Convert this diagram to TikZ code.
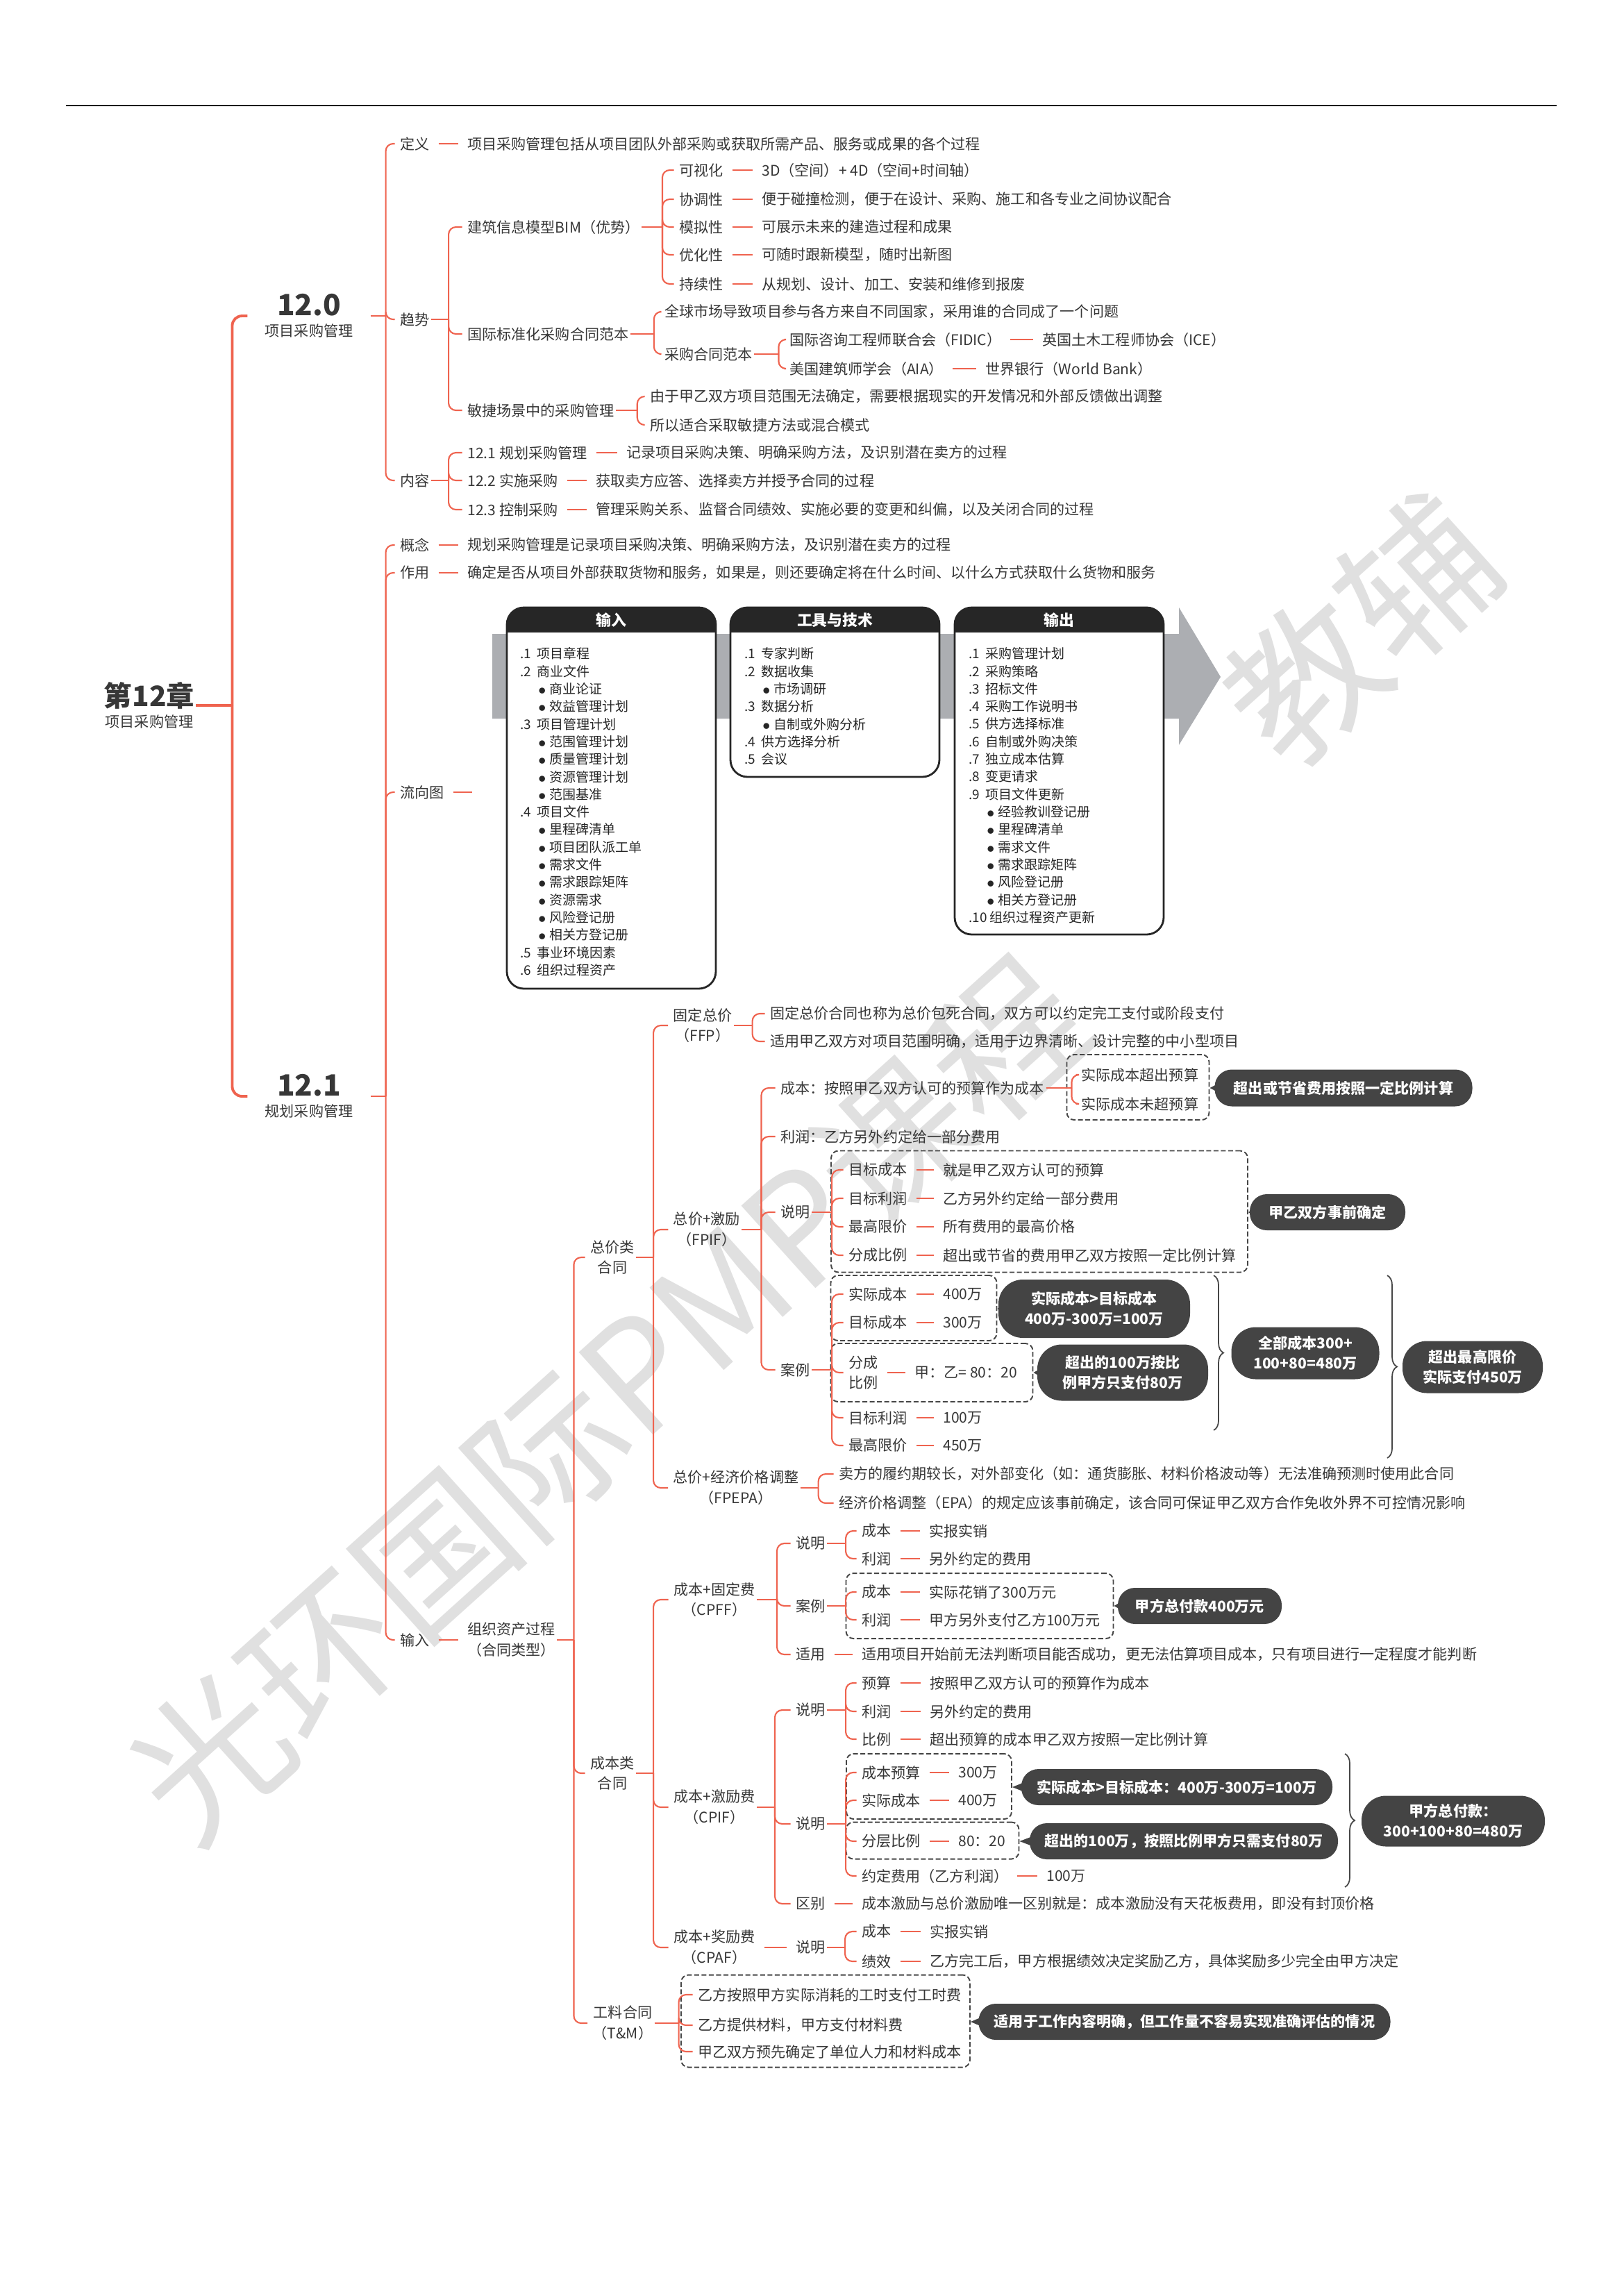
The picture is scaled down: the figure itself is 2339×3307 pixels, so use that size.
\documentclass[tikz,border=0pt]{standalone}
\usepackage{fontspec}
\setmainfont{Noto Sans CJK SC}
\usepackage{xcolor}
\definecolor{LineRed}  {RGB}{239, 99, 79}
\definecolor{TextGray} {RGB}{55,  55, 55}
\definecolor{CallFill} {RGB}{68,  68, 68}
\definecolor{BoxGray}  {RGB}{70,  70, 70}
\definecolor{FlowGray} {RGB}{172,174,178}
\definecolor{MarkGray} {RGB}{224,224,224}
\usepackage{tikz}
\usetikzlibrary{decorations.pathreplacing}

\newcommand\fsmain{\fontsize{6}{8.5}\selectfont}
\newcommand\fscall{\bfseries\fontsize{6}{8.2}\selectfont}
\newcommand\fssec{\bfseries\fontsize{12}{13}\selectfont}
\newcommand\fsroot{\bfseries\fontsize{11.5}{13}\selectfont}
\newcommand\fsflow{\fontsize{5.4}{7.2}\selectfont}
\newcommand\fshead{\bfseries\fontsize{6.2}{7}\selectfont}
\newcommand\fsmark{\fontsize{62}{62}\selectfont}
\newcommand\fnum[1]{\makebox[6.8pt][l]{#1}}
\newcommand\fbul{\hspace*{7pt}\makebox[4.9pt][l]{$\bullet$}}

\begin{document}
\begin{tikzpicture}[x=0.1mm, y=-0.1mm,
  txt/.style={anchor=west, inner sep=0.5pt, text=TextGray, font=\fsmain},
  twoline/.style={inner sep=0.5pt, text=TextGray, font=\fsmain, align=center},
  sec/.style={inner xsep=7pt, inner ysep=0.5pt, text=TextGray, font=\fsmain, align=center},
  rootline/.style={draw=LineRed, line width=1.1pt, rounded corners=4pt},
  branch/.style={draw=LineRed, line width=0.6pt},
  limb/.style={draw=LineRed, line width=0.6pt, rounded corners=3pt, shorten >=1.5pt},
  stub/.style={draw=LineRed, line width=0.6pt, shorten <=3pt, shorten >=3pt},
  dbox/.style={draw=BoxGray, dash pattern=on 2pt off 1pt, line width=0.55pt,
    rounded corners=3pt, inner sep=0},
  darknote/.style={fill=CallFill, text=white, font=\fscall, align=center,
    rounded corners=7pt, inner sep=0},
  callptr/.style={fill=CallFill},
  curly/.style={draw=BoxGray, line width=0.5pt, decorate,
    decoration={brace, amplitude=4pt}},
  flowbox/.style={draw=black!85, line width=0.8pt, rounded corners=7pt},
  flowhead/.style={text=white, font=\fshead},
  flowlist/.style={anchor=north west, inner sep=0, align=left,
    text=black!85, font=\fsflow},
  wmark/.style={text=MarkGray, font=\fsmark}
]
\useasboundingbox (0,0) rectangle (2339,3307);
\fill[white] (0,0) rectangle (2339,3307);

% watermark
\node[wmark, rotate=42] (mark1) at (875,2014) {光环国际PMP课程};
\node[wmark, rotate=42] (mark2) at (1961,907) {教辅};

\draw[black, line width=0.5pt] (95,152) -- (2242,152);

% root and sections
\node[twoline] (ch) at (215,1016) {{\fsroot 第12章}\\项目采购管理};
\node[sec] (s120) at (445,455) {{\fssec 12.0}\\项目采购管理};
\node[sec] (s121) at (445,1579) {{\fssec 12.1}\\规划采购管理};
\draw[rootline] (ch.east) -- ++(52,0) coordinate (b0);
\foreach \n in {s120,s121}
  \draw[rootline] (b0) |- (\n.west);

% 12.0
\node[txt] (def)   at (574,207) {定义};
\node[txt] (trend) at (574,460) {趋势};
\node[txt] (cont)  at (574,692) {内容};
\draw[branch] (s120.east) -- ++(22,0) coordinate (b120);
\foreach \n in {def,trend,cont}
  \draw[limb] (b120) |- (\n.west);

\node[txt] (defx) at (671,207)
  {项目采购管理包括从项目团队外部采购或获取所需产品、服务或成果的各个过程};
\draw[stub] (def.east) -- (defx.west);

\node[txt] (bim)   at (671,327) {建筑信息模型BIM（优势）};
\node[txt] (intl)  at (671,481) {国际标准化采购合同范本};
\node[txt] (agile) at (671,591) {敏捷场景中的采购管理};
\draw[branch] (trend.east) -- ++(25,0) coordinate (btr);
\foreach \n in {bim,intl,agile}
  \draw[limb] (btr) |- (\n.west);

\node[txt] (bv1) at (976,245) {可视化};
\node[txt] (bv2) at (976,287) {协调性};
\node[txt] (bv3) at (976,327) {模拟性};
\node[txt] (bv4) at (976,367) {优化性};
\node[txt] (bv5) at (976,409) {持续性};
\node[txt] (bx1) at (1095,245) {3D（空间）+ 4D（空间+时间轴）};
\node[txt] (bx2) at (1095,287)
  {便于碰撞检测，便于在设计、采购、施工和各专业之间协议配合};
\node[txt] (bx3) at (1095,327) {可展示未来的建造过程和成果};
\node[txt] (bx4) at (1095,367) {可随时跟新模型，随时出新图};
\node[txt] (bx5) at (1095,409) {从规划、设计、加工、安装和维修到报废};
\draw[branch] (bim.east) -- ++(30,0) coordinate (bbim);
\foreach \i in {1,...,5}{
  \draw[limb] (bbim) |- (bv\i.west);
  \draw[stub] (bv\i.east) -- (bx\i.west);
}

\node[txt] (glob) at (955,449)
  {全球市场导致项目参与各方来自不同国家，采用谁的合同成了一个问题};
\node[txt] (tmpl) at (955,510) {采购合同范本};
\draw[branch] (intl.east) -- ++(34,0) coordinate (bint);
\foreach \n in {glob,tmpl}
  \draw[limb] (bint) |- (\n.west);
\node[txt] (fidic) at (1135,489) {国际咨询工程师联合会（FIDIC）};
\node[txt] (ice)   at (1499,489) {英国土木工程师协会（ICE）};
\node[txt] (aia)   at (1135,531) {美国建筑师学会（AIA）};
\node[txt] (wb)    at (1417,531) {世界银行（World Bank）};
\draw[branch] (tmpl.east) -- ++(35,0) coordinate (btm);
\foreach \n in {fidic,aia}
  \draw[limb] (btm) |- (\n.west);
\foreach \a/\b in {fidic/ice,aia/wb}
  \draw[stub] (\a.east) -- (\b.west);

\node[txt] (ag1) at (934,571)
  {由于甲乙双方项目范围无法确定，需要根据现实的开发情况和外部反馈做出调整};
\node[txt] (ag2) at (934,612) {所以适合采取敏捷方法或混合模式};
\draw[branch] (agile.east) -- ++(31,0) coordinate (bag);
\foreach \n in {ag1,ag2}
  \draw[limb] (bag) |- (\n.west);

\node[txt] (ct1) at (671,652) {12.1 规划采购管理};
\node[txt] (ct2) at (671,692) {12.2 实施采购};
\node[txt] (ct3) at (671,734) {12.3 控制采购};
\node[txt] (cx1) at (900,652) {记录项目采购决策、明确采购方法，及识别潜在卖方的过程};
\node[txt] (cx2) at (856,692) {获取卖方应答、选择卖方并授予合同的过程};
\node[txt] (cx3) at (856,734)
  {管理采购关系、监督合同绩效、实施必要的变更和纠偏，以及关闭合同的过程};
\draw[branch] (cont.east) -- ++(25,0) coordinate (bct);
\foreach \i in {1,2,3}{
  \draw[limb] (bct) |- (ct\i.west);
  \draw[stub] (ct\i.east) -- (cx\i.west);
}

% 12.1
\node[txt] (idea) at (574,785) {概念};
\node[txt] (role) at (574,825) {作用};
\node[txt] (flow) at (574,1141) {流向图};
\node[txt] (inp)  at (574,2362) {输入};
\draw[branch] (s121.east) -- ++(22,0) coordinate (b121);
\foreach \n in {idea,role,flow,inp}
  \draw[limb] (b121) |- (\n.west);
\node[txt] (ideax) at (671,785)
  {规划采购管理是记录项目采购决策、明确采购方法，及识别潜在卖方的过程};
\node[txt] (rolex) at (671,825)
  {确定是否从项目外部获取货物和服务，如果是，则还要确定将在什么时间、以什么方式获取什么货物和服务};
\coordinate (flowx) at (680,1141);
\node[txt, align=center] (org) at (671,2362) {组织资产过程\\（合同类型）};
\foreach \a/\b in {idea/ideax,role/rolex,inp/org}
  \draw[stub] (\a.east) -- (\b.west);
\draw[stub, shorten >=0pt] (flow.east) -- (flowx);

% flow chart
\fill[FlowGray] (709,913) -- (1698,913) -- (1698,875) -- (1758,975)
  -- (1698,1073) -- (1698,1035) -- (709,1035) -- cycle;
\foreach \l/\r/\b/\n/\t in {730/1031/1424/hin/输入,
    1052/1353/1119/htool/工具与技术, 1375/1676/1346/hout/输出}{
  \fill[white, rounded corners=7pt] (\l,875) rectangle (\r,\b);
  \begin{scope}
    \clip[rounded corners=7pt] (\l,875) rectangle (\r,\b);
    \fill[black!85] (\l,875) rectangle (\r,911);
  \end{scope}
  \draw[flowbox] (\l,875) rectangle (\r,\b);
  \node[flowhead] (\n) at ({(\l+\r)/2},893) {\t};
}
\node[flowlist] (inlist) at (749,932) {\fnum{.1}项目章程\\\fnum{.2}商业文件\\
  \fbul 商业论证\\\fbul 效益管理计划\\\fnum{.3}项目管理计划\\
  \fbul 范围管理计划\\\fbul 质量管理计划\\\fbul 资源管理计划\\\fbul 范围基准\\
  \fnum{.4}项目文件\\\fbul 里程碑清单\\\fbul 项目团队派工单\\\fbul 需求文件\\
  \fbul 需求跟踪矩阵\\\fbul 资源需求\\\fbul 风险登记册\\\fbul 相关方登记册\\
  \fnum{.5}事业环境因素\\\fnum{.6}组织过程资产};
\node[flowlist] (toollist) at (1072,932) {\fnum{.1}专家判断\\\fnum{.2}数据收集\\
  \fbul 市场调研\\\fnum{.3}数据分析\\\fbul 自制或外购分析\\
  \fnum{.4}供方选择分析\\\fnum{.5}会议};
\node[flowlist] (outlist) at (1395,932) {\fnum{.1}采购管理计划\\\fnum{.2}采购策略\\
  \fnum{.3}招标文件\\\fnum{.4}采购工作说明书\\\fnum{.5}供方选择标准\\
  \fnum{.6}自制或外购决策\\\fnum{.7}独立成本估算\\\fnum{.8}变更请求\\
  \fnum{.9}项目文件更新\\\fbul 经验教训登记册\\\fbul 里程碑清单\\\fbul 需求文件\\
  \fbul 需求跟踪矩阵\\\fbul 风险登记册\\\fbul 相关方登记册\\
  \makebox[8.6pt][l]{.10}组织过程资产更新};

% contract types
\node[twoline] (fixc)  at (882,1811) {总价类\\合同};
\node[twoline] (costc) at (882,2554) {成本类\\合同};
\node[twoline] (tm)    at (897,2914) {工料合同\\（T\&M）};
\draw[branch] (org.east) -- ++(24,0) coordinate (borg);
\foreach \n in {fixc,costc,tm}
  \draw[limb] (borg) |- (\n.west);

% fixed price
\node[twoline] (ffp)   at (1012,1477) {固定总价\\（FFP）};
\node[twoline] (fpif)  at (1018,1771) {总价+激励\\（FPIF）};
\node[twoline] (fpepa) at (1060,2143) {总价+经济价格调整\\（FPEPA）};
\draw[branch] (fixc.east) -- ++(25,0) coordinate (bfix);
\foreach \n in {ffp,fpif,fpepa}
  \draw[limb] (bfix) |- (\n.west);

\node[txt] (ffp1) at (1107,1460)
  {固定总价合同也称为总价包死合同，双方可以约定完工支付或阶段支付};
\node[txt] (ffp2) at (1107,1500)
  {适用甲乙双方对项目范围明确，适用于边界清晰、设计完整的中小型项目};
\draw[branch] (ffp.east) -- ++(27,0) coordinate (bffp);
\foreach \n in {ffp1,ffp2}
  \draw[limb] (bffp) |- (\n.west);

\node[txt] (fcost) at (1122,1567) {成本：按照甲乙双方认可的预算作为成本};
\node[txt] (fprof) at (1122,1637) {利润：乙方另外约定给一部分费用};
\node[txt] (fnote) at (1122,1746) {说明};
\node[txt] (fcase) at (1122,1973) {案例};
\draw[branch] (fpif.east) -- ++(28,0) coordinate (bfpif);
\foreach \n in {fcost,fprof,fnote,fcase}
  \draw[limb] (bfpif) |- (\n.west);

\node[dbox, minimum width=20.5mm, minimum height=9.4mm] (fcbox) at (1639,1566) {};
\node[txt] (fc1) at (1555,1548) {实际成本超出预算};
\node[txt] (fc2) at (1555,1590) {实际成本未超预算};
\draw[branch] (fcost.east) -- ++(37,0) coordinate (bfc);
\foreach \n in {fc1,fc2}
  \draw[limb] (bfc) |- (\n.west);
\node[darknote, minimum width=37.1mm, minimum height=5.3mm] (cfc) at (1935,1567)
  {超出或节省费用按照一定比例计算};

\node[dbox, minimum width=60mm, minimum height=17.5mm] (nbox) at (1497,1745) {};
\node[txt] (n1) at (1220,1685) {目标成本};
\node[txt] (n2) at (1220,1726) {目标利润};
\node[txt] (n3) at (1220,1767) {最高限价};
\node[txt] (n4) at (1220,1808) {分成比例};
\node[txt] (nx1) at (1356,1685) {就是甲乙双方认可的预算};
\node[txt] (nx2) at (1356,1726) {乙方另外约定给一部分费用};
\node[txt] (nx3) at (1356,1767) {所有费用的最高价格};
\node[txt] (nx4) at (1356,1808) {超出或节省的费用甲乙双方按照一定比例计算};
\draw[branch] (fnote.east) -- ++(29,0) coordinate (bnote);
\foreach \i in {1,...,4}{
  \draw[limb] (bnote) |- (n\i.west);
  \draw[stub] (n\i.east) -- (nx\i.west);
}
\node[darknote, minimum width=22.4mm, minimum height=5.2mm] (cnote) at (1912,1746)
  {甲乙双方事前确定};

\node[dbox, minimum width=23.9mm, minimum height=9.4mm] (kboxa) at (1316,1884) {};
\node[dbox, minimum width=29.1mm, minimum height=8.4mm] (kboxb) at (1342,1977) {};
\node[txt] (k1) at (1220,1864) {实际成本};
\node[txt] (k2) at (1220,1905) {目标成本};
\node[txt, align=left] (k3) at (1220,1977) {分成\\比例};
\node[txt] (k4) at (1220,2042) {目标利润};
\node[txt] (k5) at (1220,2082) {最高限价};
\node[txt] (kx1) at (1356,1864) {400万};
\node[txt] (kx2) at (1356,1905) {300万};
\node[txt] (kx3) at (1315,1977) {甲：乙= 80：20};
\node[txt] (kx4) at (1356,2042) {100万};
\node[txt] (kx5) at (1356,2082) {450万};
\draw[branch] (fcase.east) -- ++(29,0) coordinate (bcase);
\foreach \i in {1,...,5}{
  \draw[limb] (bcase) |- (k\i.west);
  \draw[stub] (k\i.east) -- (kx\i.west);
}
\node[darknote, rounded corners=10pt, minimum width=27.6mm, minimum height=8.4mm]
  (ka) at (1576,1885) {实际成本>目标成本\\400万-300万=100万};
\node[darknote, rounded corners=10pt, minimum width=24.6mm, minimum height=8.1mm]
  (kb) at (1617,1977) {超出的100万按比\\例甲方只支付80万};
\draw[curly] (1748,1837) -- (1748,2060);
\node[darknote, rounded corners=10pt, minimum width=21.3mm, minimum height=7.5mm]
  (kc) at (1880,1949) {全部成本300+\\100+80=480万};
\draw[curly] (1998,1837) -- (1998,2100);
\node[darknote, rounded corners=10pt, minimum width=20.2mm, minimum height=7.5mm]
  (kd) at (2121,1969) {超出最高限价\\实际支付450万};

\node[txt] (pe1) at (1206,2123)
  {卖方的履约期较长，对外部变化（如：通货膨胀、材料价格波动等）无法准确预测时使用此合同};
\node[txt] (pe2) at (1206,2165)
  {经济价格调整（EPA）的规定应该事前确定，该合同可保证甲乙双方合作免收外界不可控情况影响};
\draw[branch] (fpepa.east) -- ++(26,0) coordinate (bpe);
\foreach \n in {pe1,pe2}
  \draw[limb] (bpe) |- (\n.west);

% cost reimbursable
\node[twoline] (cpff) at (1029,2304) {成本+固定费\\（CPFF）};
\node[twoline] (cpif) at (1029,2603) {成本+激励费\\（CPIF）};
\node[twoline] (cpaf) at (1029,2805) {成本+奖励费\\（CPAF）};
\draw[branch] (costc.east) -- ++(25,0) coordinate (bcost);
\foreach \n in {cpff,cpif,cpaf}
  \draw[limb] (bcost) |- (\n.west);

\node[txt] (pfn) at (1144,2223) {说明};
\node[txt] (pfk) at (1144,2313) {案例};
\node[txt] (pfu) at (1144,2383) {适用};
\draw[branch] (cpff.east) -- ++(29,0) coordinate (bpf);
\foreach \n in {pfn,pfk,pfu}
  \draw[limb] (bpf) |- (\n.west);
\node[txt] (pn1) at (1239,2205) {成本};
\node[txt] (pn2) at (1239,2245) {利润};
\node[txt] (pnx1) at (1336,2205) {实报实销};
\node[txt] (pnx2) at (1336,2245) {另外约定的费用};
\draw[branch] (pfn.east) -- ++(27,0) coordinate (bpn);
\node[dbox, minimum width=38.5mm, minimum height=9.4mm] (pkbox) at (1411,2313) {};
\node[txt] (pk1) at (1239,2293) {成本};
\node[txt] (pk2) at (1239,2333) {利润};
\node[txt] (pkx1) at (1336,2293) {实际花销了300万元};
\node[txt] (pkx2) at (1336,2333) {甲方另外支付乙方100万元};
\draw[branch] (pfk.east) -- ++(27,0) coordinate (bpk);
\foreach \i in {1,2}{
  \draw[limb] (bpn) |- (pn\i.west);
  \draw[stub] (pn\i.east) -- (pnx\i.west);
  \draw[limb] (bpk) |- (pk\i.west);
  \draw[stub] (pk\i.east) -- (pkx\i.west);
}
\node[darknote, minimum width=23.6mm, minimum height=5.2mm] (cpk) at (1728,2313)
  {甲方总付款400万元};
\node[txt] (pfux) at (1239,2383)
  {适用项目开始前无法判断项目能否成功，更无法估算项目成本，只有项目进行一定程度才能判断};
\draw[stub] (pfu.east) -- (pfux.west);

\node[txt] (ifn) at (1144,2463) {说明};
\node[txt] (ifk) at (1144,2627) {说明};
\node[txt] (ifd) at (1144,2742) {区别};
\draw[branch] (cpif.east) -- ++(26,0) coordinate (bif);
\foreach \n in {ifn,ifk,ifd}
  \draw[limb] (bif) |- (\n.west);
\node[txt] (in1) at (1239,2424) {预算};
\node[txt] (in2) at (1239,2465) {利润};
\node[txt] (in3) at (1239,2505) {比例};
\node[txt] (inx1) at (1337,2424) {按照甲乙双方认可的预算作为成本};
\node[txt] (inx2) at (1337,2465) {另外约定的费用};
\node[txt] (inx3) at (1337,2505) {超出预算的成本甲乙双方按照一定比例计算};
\draw[branch] (ifn.east) -- ++(27,0) coordinate (bin);
\foreach \i in {1,2,3}{
  \draw[limb] (bin) |- (in\i.west);
  \draw[stub] (in\i.east) -- (inx\i.west);
}
\node[dbox, minimum width=23.8mm, minimum height=9.4mm] (ikboxa) at (1338,2573) {};
\node[dbox, minimum width=24.9mm, minimum height=5.3mm] (ikboxb) at (1343,2651) {};
\node[txt] (ik1) at (1239,2553) {成本预算};
\node[txt] (ik2) at (1239,2593) {实际成本};
\node[txt] (ik3) at (1239,2652) {分层比例};
\node[txt] (ik4) at (1239,2702) {约定费用（乙方利润）};
\node[txt] (ikx1) at (1378,2553) {300万};
\node[txt] (ikx2) at (1378,2593) {400万};
\node[txt] (ikx3) at (1378,2652) {80：20};
\node[txt] (ikx4) at (1505,2702) {100万};
\draw[branch] (ifk.east) -- ++(27,0) coordinate (bik);
\foreach \i in {1,...,4}{
  \draw[limb] (bik) |- (ik\i.west);
  \draw[stub] (ik\i.east) -- (ikx\i.west);
}
\node[darknote, minimum width=44.8mm, minimum height=5.2mm] (ika) at (1695,2574)
  {实际成本>目标成本：400万-300万=100万};
\node[darknote, minimum width=44.4mm, minimum height=5.2mm] (ikb) at (1705,2652)
  {超出的100万，按照比例甲方只需支付80万};
\draw[curly] (1937,2526) -- (1937,2718);
\node[darknote, rounded corners=10pt, minimum width=26.4mm, minimum height=7.3mm]
  (ikc) at (2093,2623) {甲方总付款：\\300+100+80=480万};
\node[txt] (ifdx) at (1239,2742)
  {成本激励与总价激励唯一区别就是：成本激励没有天花板费用，即没有封顶价格};
\draw[stub] (ifd.east) -- (ifdx.west);

\node[txt] (afn) at (1144,2805) {说明};
\draw[stub] (cpaf.east) -- (afn.west);
\node[txt] (an1) at (1239,2782) {成本};
\node[txt] (an2) at (1239,2825) {绩效};
\node[txt] (anx1) at (1337,2782) {实报实销};
\node[txt] (anx2) at (1337,2825)
  {乙方完工后，甲方根据绩效决定奖励乙方，具体奖励多少完全由甲方决定};
\draw[branch] (afn.east) -- ++(26,0) coordinate (ban);
\foreach \i in {1,2}{
  \draw[limb] (ban) |- (an\i.west);
  \draw[stub] (an\i.east) -- (anx\i.west);
}

% time and material
\node[dbox, minimum width=41.6mm, minimum height=13.3mm] (tmbox) at (1189,2911) {};
\node[txt] (t1) at (1003,2873) {乙方按照甲方实际消耗的工时支付工时费};
\node[txt] (t2) at (1003,2917) {乙方提供材料，甲方支付材料费};
\node[txt] (t3) at (1003,2955) {甲乙双方预先确定了单位人力和材料成本};
\draw[branch] (tm.east) -- ++(35,0) coordinate (btm2);
\foreach \n in {t1,t2,t3}
  \draw[limb] (btm2) |- (\n.west);
\node[darknote, minimum width=59.3mm, minimum height=5.2mm] (ctm) at (1706,2912)
  {适用于工作内容明确，但工作量不容易实现准确评估的情况};

% callout pointers
\foreach \c/\b in {cfc/fcbox,cnote/nbox,ka/kboxa,kb/kboxb,cpk/pkbox,
    ika/ikboxa,ikb/ikboxb,ctm/tmbox}
  \fill[callptr] ([xshift=4pt,yshift=3pt]\c.west) -- (\b.east |- \c.west)
    -- ([xshift=4pt,yshift=-3pt]\c.west) -- cycle;
\end{tikzpicture}
\end{document}
